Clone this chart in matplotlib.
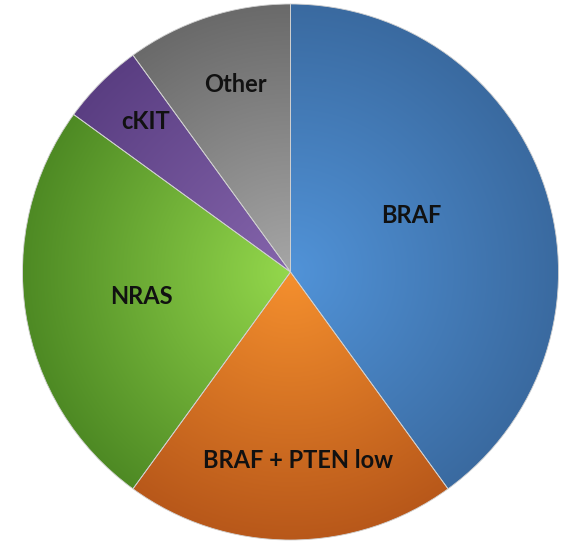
import matplotlib.pyplot as plt
import numpy as np
from matplotlib.colors import to_rgb

labels = ["BRAF", "BRAF + PTEN low", "NRAS", "cKIT", "Other"]
shares = [40, 20, 25, 5, 10]
light = ["#5193d8", "#f5902e", "#94d84c", "#8565ac", "#a6a6a6"]
dark = ["#3a6aa0", "#b8581a", "#4e8a24", "#5a3e82", "#6a6a6a"]
label_xy = [(0.45, 0.21), (0.03, -0.705), (-0.557, -0.09), (-0.542, 0.56), (-0.206, 0.70)]

fig = plt.figure(figsize=(5.61, 5.43), dpi=100)
ax = fig.add_axes([22.5 / 561, 3 / 543, 536 / 561, 536 / 543])
ax.axis("off")

wedges, _ = ax.pie(shares, startangle=90, counterclock=False, radius=1,
                   wedgeprops=dict(linewidth=0.6, edgecolor="#d0d0d0"))

# radial shading: light near the centre, darker towards the rim
xx, yy = np.meshgrid(np.linspace(-1, 1, 400), np.linspace(-1, 1, 400))
rr = np.clip(np.sqrt(xx ** 2 + yy ** 2), 0, 1)[..., None]
for w, c1, c2 in zip(wedges, light, dark):
    img = np.array(to_rgb(c1)) * (1 - rr) + np.array(to_rgb(c2)) * rr
    im = ax.imshow(img, extent=[-1, 1, -1, 1], origin="lower", zorder=1.5,
                   interpolation="bilinear")
    im.set_clip_path(w)
    w.set_facecolor("none")
    w.set_zorder(2)

for lab, (x, y) in zip(labels, label_xy):
    ax.text(x, y, lab, ha="center", va="center", fontsize=17,
            fontweight="bold", family="Lato", color="#111111", zorder=3)

ax.set_xlim(-1, 1)
ax.set_ylim(-1, 1)
ax.set_aspect("auto")
fig.savefig("out.png", dpi=100, facecolor="white")
